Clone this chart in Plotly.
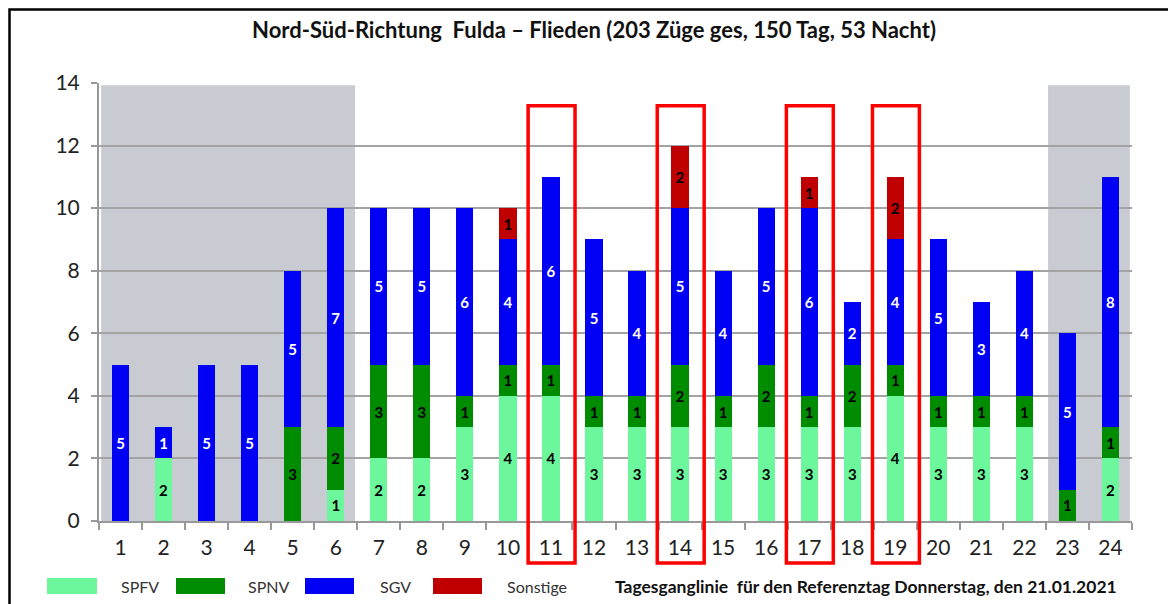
import plotly.graph_objects as go

# hourly train counts, Thursday 21.01.2021
hours = list(range(1, 25))
spfv = [0, 2, 0, 0, 0, 1, 2, 2, 3, 4, 4, 3, 3, 3, 3, 3, 3, 3, 4, 3, 3, 3, 0, 2]
spnv = [0, 0, 0, 0, 3, 2, 3, 3, 1, 1, 1, 1, 1, 2, 1, 2, 1, 2, 1, 1, 1, 1, 1, 1]
sgv = [5, 1, 5, 5, 5, 7, 5, 5, 6, 4, 6, 5, 4, 5, 4, 5, 6, 2, 4, 5, 3, 4, 5, 8]
sonstige = [0, 0, 0, 0, 0, 0, 0, 0, 0, 1, 0, 0, 0, 2, 0, 0, 1, 0, 2, 0, 0, 0, 0, 0]

series_names = ["SPFV", "SPNV", "SGV", "Sonstige"]
series_colors = ["#6cf79c", "#008c00", "#0000f5", "#c00000"]
label_colors = ["black", "black", "white", "black"]

night_blocks = [(1, 6), (23, 24)]
highlight_hours = [11, 14, 17, 19]

title = "Nord-Süd-Richtung  Fulda – Flieden (203 Züge ges, 150 Tag, 53 Nacht)"
footer = "Tagesganglinie  für den Referenztag Donnerstag, den 21.01.2021"

FONT = "Lato"

# page body adds an 8px offset, so the figure is 8px smaller than the window
OFF = 8
W, H = 1168, 596
L, T = 99 - OFF, 83 - OFF
R, B = W - (1132 - OFF), H - (521 - OFF)
pw, ph = W - L - R, H - T - B


def px(x):
    # screen x -> paper
    return (x - OFF - L) / pw


def py(y):
    # screen y -> paper
    return (H - B - (y - OFF)) / ph


fig = go.Figure()
for name, vals, col, tcol in zip(series_names, [spfv, spnv, sgv, sonstige], series_colors, label_colors):
    fig.add_trace(go.Bar(
        x=hours, y=vals, name=name,
        marker=dict(color=col, line=dict(width=0)),
        text=[str(v) if v else "" for v in vals],
        textposition="inside", insidetextanchor="middle", textangle=0,
        constraintext="none",
        textfont=dict(family=FONT, size=15, color=tcol, weight="bold"),
        showlegend=False,
    ))

shapes = []
# night shading
for a, b in night_blocks:
    shapes.append(dict(type="rect", xref="x", yref="y", x0=a - 0.45, x1=b + 0.45, y0=0, y1=13.93,
                       fillcolor="#c8ccd2", line=dict(width=0), layer="below"))
# red highlight boxes
for h in highlight_hours:
    shapes.append(dict(type="rect", xref="x domain", yref="y domain",
                       x0=(h - 0.5 - 0.53) / 24, x1=(h - 0.5 + 0.56) / 24,
                       y0=-0.096, y1=0.948,
                       line=dict(color="#ff0000", width=3.5), fillcolor="rgba(0,0,0,0)"))
# outer frame (left edge kept just inside the figure)
shapes.append(dict(type="rect", xref="paper", yref="paper",
                   x0=px(9.5), x1=px(1200), y0=py(640), y1=py(9.5),
                   line=dict(color="black", width=2.5)))

# legend drawn by hand (wide swatches like the original)
legend_boxes = [(47, 97, 140), (176, 225, 269), (305, 354, 395), (433, 482, 537)]
annotations = []
for (x0, x1, tx), name, col in zip(legend_boxes, series_names, series_colors):
    shapes.append(dict(type="rect", xref="paper", yref="paper", x0=px(x0), x1=px(x1),
                       y0=py(594), y1=py(578), fillcolor=col, line=dict(width=0)))
    annotations.append(dict(xref="paper", yref="paper", x=px(tx), y=py(586), text=name,
                            showarrow=False, xanchor="center", yanchor="middle",
                            font=dict(family=FONT, size=16, color="#333")))
annotations.append(dict(xref="paper", yref="paper", x=px(1119), y=py(586), text=footer,
                        showarrow=False, xanchor="right", yanchor="middle",
                        font=dict(family=FONT, size=17.5, color="#111", weight="bold")))

fig.update_layout(
    width=W, height=H,
    margin=dict(l=L, r=R, t=T, b=B),
    barmode="stack", bargap=0.6,
    plot_bgcolor="white", paper_bgcolor="white",
    title=dict(text=title, x=px(594), xanchor="center", xref="paper",
               y=1 - (30 - OFF) / H, yanchor="middle",
               font=dict(family=FONT, size=22, color="#111", weight="bold")),
    shapes=shapes, annotations=annotations,
    showlegend=False,
)
fig.update_xaxes(
    range=[0.5, 24.5], tickmode="array", tickvals=hours, ticks="", ticklabelstandoff=7,
    tickfont=dict(family=FONT, size=21, color="#222"),
    showline=True, linecolor="#999", linewidth=2, showgrid=False, zeroline=False,
    minor=dict(tick0=0.5, dtick=1, ticks="outside", ticklen=7, tickcolor="#999", tickwidth=2, showgrid=False),
)
fig.update_yaxes(
    range=[0, 14], dtick=2, ticks="outside", ticklen=6, tickcolor="#999", tickwidth=2,
    ticklabelstandoff=7,
    tickfont=dict(family=FONT, size=21, color="#222"),
    showline=True, linecolor="#999", linewidth=2,
    showgrid=True, gridcolor="#a3a3a3", gridwidth=1.5, zeroline=False,
)

fig.write_html("out.html")
